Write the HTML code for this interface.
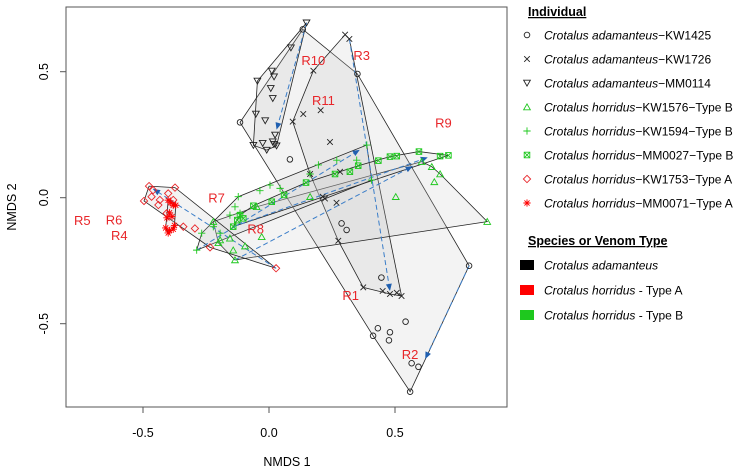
<!DOCTYPE html>
<html><head><meta charset="utf-8"><style>
body{margin:0;background:#fff;font-family:"Liberation Sans",Arial,sans-serif}
svg text{font-family:"Liberation Sans",Arial,sans-serif}
</style></head><body>
<svg id="chart" width="737" height="471" viewBox="0 0 737 471" xmlns="http://www.w3.org/2000/svg">
<rect x="0" y="0" width="737" height="471" fill="#fff"/>
<g id="hulls"></g>
<g id="arrows"></g>
<g id="points"></g>
<g id="labels"></g>
<rect x="66" y="7" width="441" height="400" fill="none" stroke="#555" stroke-width="1"/>
<g id="axes"></g>
<text x="287" y="466" font-size="12.5" text-anchor="middle">NMDS 1</text>
<text x="16" y="207" font-size="12.5" text-anchor="middle" transform="rotate(-90 16 207)">NMDS 2</text>
<g id="legend"></g>
</svg>
<script>
const xTicks=[-0.5,0,0.5];
const yTicks=[-0.5,0,0.5];
const xTickLabels=["-0.5","0.0","0.5"];
const yTickLabels=["-0.5","0.0","0.5"];
const groupNames=["KW1425","KW1726","MM0114","KW1576","KW1594","MM0027","KW1753","MM0071"];
const ptsKW1425=[[0.134,0.668],[0.351,0.491],[-0.115,0.299],[0.083,0.152],[0.288,-0.102],[0.308,-0.128],[0.446,-0.317],[0.794,-0.270],[0.542,-0.492],[0.432,-0.518],[0.413,-0.548],[0.480,-0.534],[0.476,-0.566],[0.566,-0.657],[0.593,-0.671],[0.560,-0.770]];
const ptsKW1726=[[0.302,0.647],[0.319,0.630],[0.176,0.504],[0.094,0.302],[0.136,0.332],[0.205,0.347],[0.242,0.221],[0.163,0.094],[0.282,0.103],[0.213,0.004],[0.222,-0.003],[0.268,-0.020],[0.275,-0.171],[0.374,-0.356],[0.451,-0.370],[0.480,-0.382],[0.526,-0.390],[0.507,-0.377]];
const ptsMM0114=[[0.149,0.694],[0.087,0.595],[0.011,0.503],[0.020,0.480],[-0.046,0.463],[0.007,0.434],[0.015,0.394],[-0.052,0.332],[-0.015,0.306],[-0.062,0.208],[-0.025,0.216],[-0.009,0.189],[0.020,0.212],[0.024,0.249],[0.015,0.222],[0.030,0.206]];
const ptsKW1576=[[0.866,-0.095],[0.679,0.094],[0.656,0.063],[0.646,0.123],[0.606,0.143],[0.503,0.004],[0.163,0.004],[-0.049,-0.036],[-0.029,-0.155],[-0.095,-0.192],[-0.142,-0.208],[-0.135,-0.247],[-0.221,-0.095],[-0.194,-0.168],[-0.201,-0.179],[-0.155,-0.161]];
const ptsKW1594=[[0.388,0.209],[0.269,0.149],[0.196,0.130],[0.163,0.094],[0.044,0.037],[0.004,0.050],[-0.036,0.028],[-0.122,0.004],[-0.135,-0.036],[-0.155,-0.069],[-0.115,-0.062],[-0.221,-0.115],[-0.194,-0.141],[-0.267,-0.141],[-0.287,-0.208],[0.407,0.070],[0.348,0.149]];
const ptsMM0027=[[0.595,0.183],[0.712,0.168],[0.679,0.165],[0.507,0.165],[0.480,0.163],[0.434,0.147],[0.354,0.127],[0.321,0.103],[0.262,0.094],[0.147,0.060],[0.060,0.011],[0.011,-0.016],[-0.062,-0.032],[-0.115,-0.069],[-0.126,-0.089],[-0.102,-0.082],[-0.142,-0.115]];
const ptsKW1753=[[-0.476,0.046],[-0.373,0.040],[-0.496,-0.013],[-0.466,0.004],[-0.439,-0.029],[-0.406,-0.062],[-0.340,-0.115],[-0.294,-0.122],[-0.234,-0.197],[0.028,-0.280],[-0.380,-0.009],[-0.400,0.017],[-0.433,-0.009],[-0.460,0.030]];
const ptsMM0071=[[-0.400,-0.010],[-0.390,-0.020],[-0.380,-0.030],[-0.395,-0.060],[-0.405,-0.080],[-0.385,-0.075],[-0.410,-0.120],[-0.395,-0.130],[-0.380,-0.125],[-0.400,-0.140],[-0.375,-0.110],[-0.370,-0.030]];
const arrowFrom=[[0.149,0.694],[0.319,0.630],[0.794,-0.270],[0.028,-0.280],[-0.287,-0.208],[-0.142,-0.115],[-0.135,-0.247]];
const arrowTo=[[0.030,0.270],[0.480,-0.370],[0.620,-0.640],[-0.460,0.035],[0.360,0.190],[0.630,0.160],[0.570,0.125]];
const regionNames=["R1","R2","R3","R4","R5","R6","R7","R8","R9","R10","R11"];
const regionPos=[[0.324,-0.386],[0.560,-0.620],[0.368,0.566],[-0.594,-0.148],[-0.741,-0.089],[-0.615,-0.086],[-0.208,0.001],[-0.053,-0.122],[0.692,0.298],[0.176,0.546],[0.216,0.388]];

const NS="http://www.w3.org/2000/svg";
const sx=v=>269+v*252, sy=v=>197.7-v*252;
function mk(tag,parent){const e=document.createElementNS(NS,tag);parent.appendChild(e);return e;}
const groups=[
 {pts:ptsKW1425,col:"#222",sym:"circle"},{pts:ptsKW1726,col:"#222",sym:"x"},{pts:ptsMM0114,col:"#222",sym:"dtri"},
 {pts:ptsKW1576,col:"#1ec81e",sym:"utri"},{pts:ptsKW1594,col:"#1ec81e",sym:"plus"},{pts:ptsMM0027,col:"#1ec81e",sym:"box"},
 {pts:ptsKW1753,col:"#e8262a",sym:"diamond"},{pts:ptsMM0071,col:"#f00",sym:"star"}];
function hull(p){p=p.slice().sort((a,b)=>a[0]-b[0]||a[1]-b[1]);const c=(o,a,b)=>(a[0]-o[0])*(b[1]-o[1])-(a[1]-o[1])*(b[0]-o[0]);const lo=[],up=[];
 for(const q of p){while(lo.length>=2&&c(lo[lo.length-2],lo[lo.length-1],q)<=0)lo.pop();lo.push(q);}
 for(const q of p.slice().reverse()){while(up.length>=2&&c(up[up.length-2],up[up.length-1],q)<=0)up.pop();up.push(q);}
 return lo.slice(0,-1).concat(up.slice(0,-1));}
const H=document.getElementById('hulls');
groups.forEach((g,i)=>{const h=hull(g.pts);const e=mk('polygon',H);
 e.setAttribute('points',h.map(q=>sx(q[0])+','+sy(q[1])).join(' '));
 e.setAttribute('fill','rgba(200,200,200,0.22)');e.setAttribute('stroke','#222');e.setAttribute('stroke-width','0.8');
 
 });
function symbol(parent,s,x,y,col,r){const g=mk('g',parent);g.setAttribute('stroke',col);g.setAttribute('fill','none');g.setAttribute('stroke-width','0.9');
 if(s==='circle'){const c=mk('circle',g);c.setAttribute('cx',x);c.setAttribute('cy',y);c.setAttribute('r',r);}
 else if(s==='x'){const p=mk('path',g);p.setAttribute('d',`M${x-r} ${y-r}L${x+r} ${y+r}M${x-r} ${y+r}L${x+r} ${y-r}`);}
 else if(s==='plus'){const p=mk('path',g);p.setAttribute('d',`M${x-r*1.3} ${y}L${x+r*1.3} ${y}M${x} ${y-r*1.3}L${x} ${y+r*1.3}`);}
 else if(s==='dtri'){const p=mk('polygon',g);p.setAttribute('points',`${x-r*1.2},${y-r} ${x+r*1.2},${y-r} ${x},${y+r*1.1}`);}
 else if(s==='utri'){const p=mk('polygon',g);p.setAttribute('points',`${x-r*1.2},${y+r} ${x+r*1.2},${y+r} ${x},${y-r*1.1}`);}
 else if(s==='diamond'){const p=mk('polygon',g);p.setAttribute('points',`${x},${y-r*1.3} ${x+r*1.3},${y} ${x},${y+r*1.3} ${x-r*1.3},${y}`);}
 else if(s==='box'){const p=mk('rect',g);p.setAttribute('x',x-r);p.setAttribute('y',y-r);p.setAttribute('width',2*r);p.setAttribute('height',2*r);
  const q=mk('path',g);q.setAttribute('d',`M${x-r} ${y-r}L${x+r} ${y+r}M${x-r} ${y+r}L${x+r} ${y-r}`);}
 else if(s==='star'){const p=mk('path',g);let d='';for(let k=0;k<4;k++){const a=k*Math.PI/4;d+=`M${x-r*1.3*Math.cos(a)} ${y-r*1.3*Math.sin(a)}L${x+r*1.3*Math.cos(a)} ${y+r*1.3*Math.sin(a)}`;}p.setAttribute('d',d);}
 return g;}
const A=document.getElementById('arrows');
arrowFrom.forEach((f,i)=>{const t=arrowTo[i];const x1=sx(f[0]),y1=sy(f[1]),x2=sx(t[0]),y2=sy(t[1]);
 const l=mk('line',A);l.setAttribute('x1',x1);l.setAttribute('y1',y1);l.setAttribute('x2',x2);l.setAttribute('y2',y2);
 l.setAttribute('stroke','#3a7dc8');l.setAttribute('stroke-width','1');l.setAttribute('stroke-dasharray','5,3');
 
 
 const ang=Math.atan2(y2-y1,x2-x1),L=7,W=3;const hp=mk('polygon',A);
 hp.setAttribute('points',`${x2},${y2} ${x2-L*Math.cos(ang)+W*Math.sin(ang)},${y2-L*Math.sin(ang)-W*Math.cos(ang)} ${x2-L*Math.cos(ang)-W*Math.sin(ang)},${y2-L*Math.sin(ang)+W*Math.cos(ang)}`);
 hp.setAttribute('fill','#1f5fb0');
 
 });
const P=document.getElementById('points');
groups.forEach((g,i)=>g.pts.forEach(q=>{const e=symbol(P,g.sym,sx(q[0]),sy(q[1]),g.col,2.8);
 
 }));
const LB=document.getElementById('labels');
regionNames.forEach((n,i)=>{const t=mk('text',LB);t.setAttribute('x',sx(regionPos[i][0]));t.setAttribute('y',sy(regionPos[i][1])+5);
 t.setAttribute('text-anchor','middle');t.setAttribute('font-size','13');t.setAttribute('fill','#e8262a');t.textContent=n;
 
 });
const AX=document.getElementById('axes');
xTicks.forEach((v,i)=>{const l=mk('line',AX);l.setAttribute('x1',sx(v));l.setAttribute('x2',sx(v));l.setAttribute('y1',407);l.setAttribute('y2',413);l.setAttribute('stroke','#555');
 
 
 const t=mk('text',AX);t.setAttribute('x',sx(v));t.setAttribute('y',437);t.setAttribute('text-anchor','middle');t.setAttribute('font-size','12.5');t.textContent=xTickLabels[i];
 
 });
yTicks.forEach((v,i)=>{const l=mk('line',AX);l.setAttribute('x1',60);l.setAttribute('x2',66);l.setAttribute('y1',sy(v));l.setAttribute('y2',sy(v));l.setAttribute('stroke','#555');
 
 
 const t=mk('text',AX);t.setAttribute('transform',`translate(48 ${sy(v)}) rotate(-90)`);t.setAttribute('text-anchor','middle');t.setAttribute('font-size','12.5');t.textContent=yTickLabels[i];
 
 });
const LG=document.getElementById('legend');
const legSpecies=["adamanteus","adamanteus","adamanteus","horridus","horridus","horridus","horridus","horridus"];
const legSuffix=["-KW1425","-KW1726","-MM0114","-KW1576-Type B","-KW1594-Type B","-MM0027-Type B","-KW1753-Type A","-MM0071-Type A"];
function title(txt,y,name){const t=mk('text',LG);t.setAttribute('x',528);t.setAttribute('y',y);t.setAttribute('font-size','12.5');t.setAttribute('font-weight','bold');t.setAttribute('text-decoration','underline');t.textContent=txt;
 
 }
title("Individual",16,'legend-title-individual');
groups.forEach((g,i)=>{const y=35+i*24;const s=symbol(LG,g.sym,527,y,g.col,2.8);
 
 
 const t=mk('text',LG);t.setAttribute('x',544);t.setAttribute('y',y+4.5);t.setAttribute('font-size','12');
 t.innerHTML='<tspan font-style="italic">Crotalus '+legSpecies[i]+'</tspan>'+legSuffix[i].replace(/-/g,'\u2212');
 
 });
title("Species or Venom Type",245,'legend-title-species');
const spCols=["#000","#f00","#1ec81e"];
const spText=['<tspan font-style="italic">Crotalus adamanteus</tspan>','<tspan font-style="italic">Crotalus horridus</tspan> - Type A','<tspan font-style="italic">Crotalus horridus</tspan> - Type B'];
spCols.forEach((c,i)=>{const y=265+i*25;const r=mk('rect',LG);r.setAttribute('x',520);r.setAttribute('y',y-5);r.setAttribute('width',14);r.setAttribute('height',10);r.setAttribute('fill',c);
 
 
 const t=mk('text',LG);t.setAttribute('x',544);t.setAttribute('y',y+4.5);t.setAttribute('font-size','12');t.innerHTML=spText[i];
 
 });
</script>
</body></html>
